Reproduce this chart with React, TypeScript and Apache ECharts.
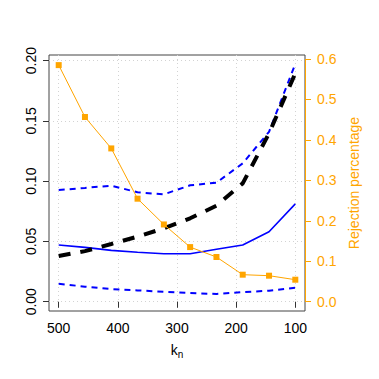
import React, { useEffect, useRef } from "react";
import * as echarts from "echarts";

const kn = [500, 455.6, 411.1, 366.7, 322.2, 277.8, 233.3, 188.9, 144.4, 100];
const blueSolid = [0.0471, 0.0451, 0.0426, 0.041, 0.0398, 0.0398, 0.0435, 0.047, 0.058, 0.0812];
const blueUpper = [0.0927, 0.0944, 0.0963, 0.0908, 0.0891, 0.0966, 0.0988, 0.1148, 0.141, 0.1973];
const blueLower = [0.0149, 0.0125, 0.0105, 0.0094, 0.0083, 0.0072, 0.0064, 0.008, 0.0091, 0.0116];
const blackDashed = [0.0379, 0.042, 0.0479, 0.054, 0.0609, 0.0692, 0.0797, 0.0982, 0.1397, 0.1895];
const rejection = [0.585, 0.4567, 0.379, 0.2547, 0.191, 0.135, 0.1105, 0.0668, 0.0643, 0.0544];

const xTicks = [500, 400, 300, 200, 100];
const yLeftTicks = [0, 0.05, 0.1, 0.15, 0.2];
const yRightTicks = [0, 0.1, 0.2, 0.3, 0.4, 0.5, 0.6];

const FONT = "Liberation Sans";
const ORANGE = "#FFA500";

const pairs = (ys: number[]) => kn.map((x, i) => [x, ys[i]]);

export default function App() {
  const ref = useRef<HTMLDivElement>(null);
  useEffect(() => {
    if (!ref.current) return;
    const chart = echarts.init(ref.current, null, { renderer: "svg" });
    const gridLine = { show: true, lineStyle: { color: "#D3D3D3", type: [1, 3], width: 1 } };
    chart.setOption({
      animation: false,
      backgroundColor: "#fff",
      textStyle: { fontFamily: FONT },
      grid: {
        left: 49,
        right: 74,
        top: 55,
        bottom: 68,
        show: true,
        borderColor: "#444",
        borderWidth: 1,
        backgroundColor: "transparent",
      },
      xAxis: {
        type: "value",
        inverse: true,
        min: 83.6,
        max: 516.4,
        name: "{a|k}{b|n}",
        nameLocation: "middle",
        nameGap: 30,
        nameTextStyle: {
          rich: {
            a: { fontSize: 14, fontFamily: FONT, color: "#000" },
            b: { fontSize: 10, fontFamily: FONT, color: "#000", padding: [8, 0, 0, 0] },
          },
        },
        axisLine: { show: false },
        axisTick: { show: true, length: 6, lineStyle: { color: "#333" }, customValues: xTicks },
        axisLabel: { fontSize: 14, color: "#000", margin: 10, fontFamily: FONT, customValues: xTicks },
        splitLine: gridLine,
      },
      yAxis: [
        {
          type: "value",
          min: -0.0077,
          max: 0.2047,
          axisLine: { show: false },
          axisTick: { show: true, length: 6, lineStyle: { color: "#333" }, customValues: yLeftTicks },
          axisLabel: {
            fontSize: 14,
            color: "#000",
            rotate: 90,
            margin: 11,
            fontFamily: FONT,
            customValues: yLeftTicks,
            formatter: (v: number) => v.toFixed(2),
          },
          splitLine: gridLine,
        },
        {
          type: "value",
          position: "right",
          min: -0.023,
          max: 0.61,
          name: "Rejection percentage",
          nameLocation: "middle",
          nameRotate: 90,
          nameGap: 42,
          nameTextStyle: { fontSize: 14, color: ORANGE, fontFamily: FONT },
          axisLine: { show: false },
          axisTick: { show: true, length: 6, lineStyle: { color: ORANGE }, customValues: yRightTicks },
          axisLabel: {
            fontSize: 14,
            color: ORANGE,
            margin: 12,
            fontFamily: FONT,
            customValues: yRightTicks,
            formatter: (v: number) => v.toFixed(1),
          },
          splitLine: { show: false },
        },
      ],
      series: [
        {
          type: "line",
          data: pairs(blueLower),
          showSymbol: false,
          symbol: "none",
          lineStyle: { color: "#0000FF", width: 2, type: [6, 5] },
        },
        {
          type: "line",
          data: pairs(blueUpper),
          showSymbol: false,
          symbol: "none",
          lineStyle: { color: "#0000FF", width: 2, type: [6, 5] },
        },
        {
          type: "line",
          data: pairs(blueSolid),
          showSymbol: false,
          symbol: "none",
          lineStyle: { color: "#0000FF", width: 1.6 },
        },
        {
          type: "line",
          data: pairs(blackDashed),
          showSymbol: false,
          symbol: "none",
          lineStyle: { color: "#000", width: 4, type: [12, 10] },
        },
        {
          type: "line",
          yAxisIndex: 1,
          data: pairs(rejection),
          symbol: "rect",
          symbolSize: 6,
          itemStyle: { color: ORANGE },
          lineStyle: { color: ORANGE, width: 1 },
          markLine: {
            silent: true,
            symbol: "none",
            label: { show: false },
            lineStyle: { color: ORANGE, width: 1, type: "solid" },
            data: [[{ coord: [83.6, 0] }, { coord: [83.6, 0.6] }]],
          },
        },
      ],
    });
    return () => chart.dispose();
  }, []);
  return (
    <div
      ref={ref}
      style={{ position: "fixed", left: 0, top: 0, width: 379, height: 379 }}
    />
  );
}
